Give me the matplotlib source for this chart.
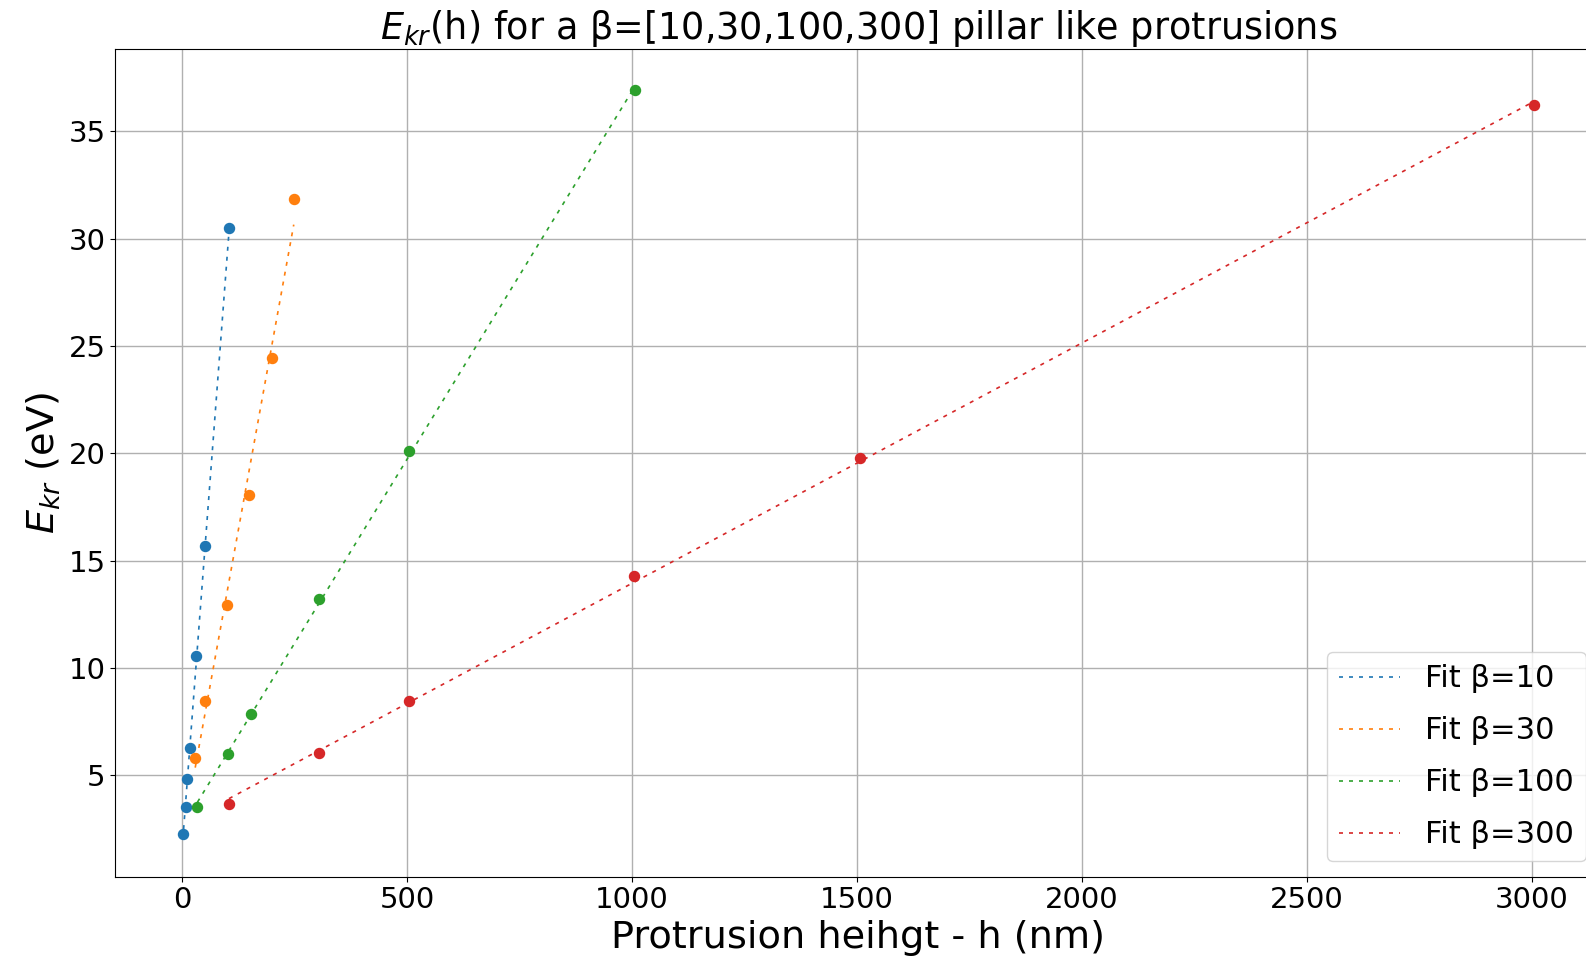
import numpy as np
import matplotlib
matplotlib.use("Agg")
import matplotlib.pyplot as plt

# Protrusion height h (nm) and emission energy E_kr (eV) for each aspect ratio beta
betas = [10, 30, 100, 300]

h_b10 = [1.5, 8.2, 11.8, 16.3, 31.8, 51.8, 104.4]
e_b10 = [2.29, 3.52, 4.83, 6.26, 10.56, 15.69, 30.48]

h_b30 = [29, 51, 99, 148, 200, 248]
e_b30 = [5.80, 8.48, 12.96, 18.07, 24.44, 31.84]

h_b100 = [34, 102, 152, 305, 504, 1006]
e_b100 = [3.52, 6.00, 7.88, 13.21, 20.13, 36.91]

h_b300 = [104, 304, 504, 1005, 1506, 3004]
e_b300 = [3.67, 6.06, 8.49, 14.27, 19.78, 36.22]

series = [(h_b10, e_b10), (h_b30, e_b30), (h_b100, e_b100), (h_b300, e_b300)]
colors = ["#1f77b4", "#ff7f0e", "#2ca02c", "#d62728"]

W, H = 1586, 963
fig = plt.figure(figsize=(W / 100, H / 100), dpi=100)
ax = fig.add_axes([115.3 / W, 86.3 / H, 1486 / W, 827.7 / H])

for beta, (h, e), c in zip(betas, series, colors):
    h = np.asarray(h, dtype=float)
    e = np.asarray(e, dtype=float)
    slope, icpt = np.polyfit(h, e, 1)
    ax.plot(h, slope * h + icpt, ls=(0, (2.4, 3.6)), lw=1.2, color=c,
            label=f"Fit β={beta}")
    ax.scatter(h, e, s=52, color=c, zorder=3)

ax.set_xticks([0, 500, 1000, 1500, 2000, 2500, 3000])
ax.set_yticks([5, 10, 15, 20, 25, 30, 35])
ax.tick_params(labelsize=21)
ax.grid(True, color="#b0b0b0", lw=1)
ax.set_axisbelow(True)

ax.set_xlabel("Protrusion heihgt - h (nm)", fontsize=27.5)
ax.set_ylabel("$E_{kr}$ (eV)", fontsize=27.5)
ax.set_title("$E_{kr}$(h) for a β=[10,30,100,300] pillar like protrusions",
             fontsize=26.4)

ax.legend(loc="lower right", fontsize=22, labelspacing=0.75)

fig.savefig("out.png", dpi=100)
